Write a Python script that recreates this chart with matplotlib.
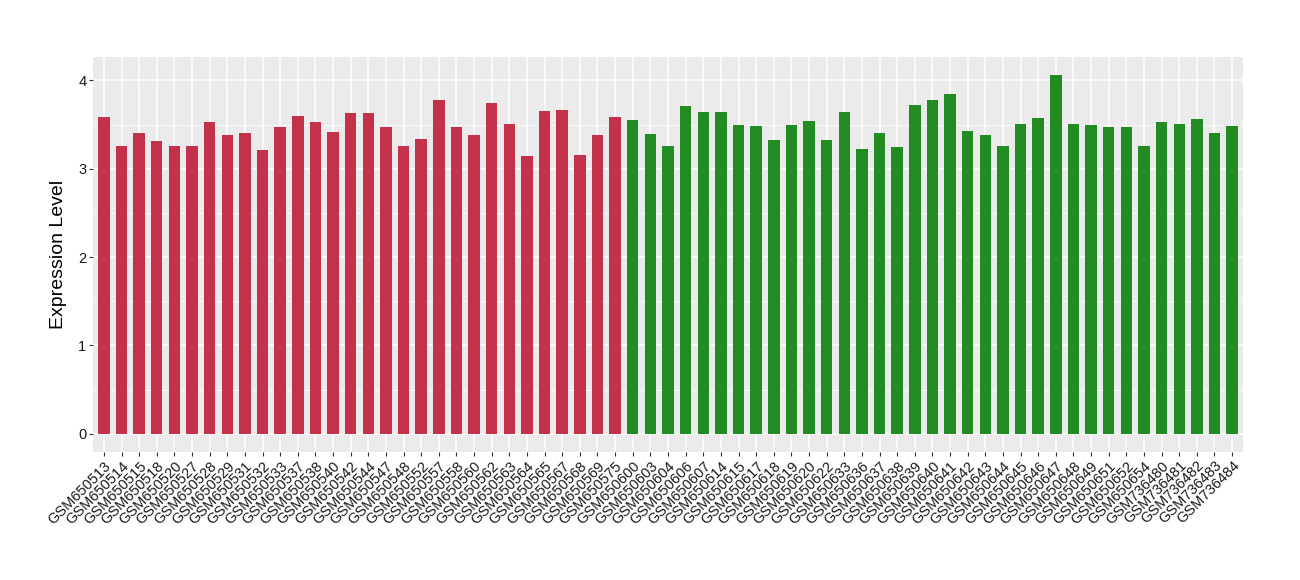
import matplotlib
matplotlib.use("Agg")
import matplotlib.pyplot as plt
from matplotlib.ticker import MultipleLocator

plt.rcParams['font.family'] = ['Liberation Sans', 'DejaVu Sans']

red_samples = ["GSM650513", "GSM650514", "GSM650515", "GSM650518", "GSM650520", "GSM650527",
               "GSM650528", "GSM650529", "GSM650531", "GSM650532", "GSM650533", "GSM650537",
               "GSM650538", "GSM650540", "GSM650542", "GSM650544", "GSM650547", "GSM650548",
               "GSM650552", "GSM650557", "GSM650558", "GSM650560", "GSM650562", "GSM650563",
               "GSM650564", "GSM650565", "GSM650567", "GSM650568", "GSM650569", "GSM650575"]
red_values = [3.58, 3.26, 3.41, 3.31, 3.26, 3.26, 3.53, 3.38, 3.40, 3.21, 3.47, 3.60,
              3.53, 3.42, 3.63, 3.63, 3.47, 3.26, 3.34, 3.78, 3.47, 3.38, 3.74, 3.51,
              3.14, 3.65, 3.67, 3.15, 3.38, 3.59]

green_samples = ["GSM650600", "GSM650603", "GSM650604", "GSM650606", "GSM650607", "GSM650614",
                 "GSM650615", "GSM650617", "GSM650618", "GSM650619", "GSM650620", "GSM650622",
                 "GSM650633", "GSM650636", "GSM650637", "GSM650638", "GSM650639", "GSM650640",
                 "GSM650641", "GSM650642", "GSM650643", "GSM650644", "GSM650645", "GSM650646",
                 "GSM650647", "GSM650648", "GSM650649", "GSM650651", "GSM650652", "GSM650654",
                 "GSM736480", "GSM736481", "GSM736482", "GSM736483", "GSM736484"]
green_values = [3.55, 3.39, 3.26, 3.71, 3.64, 3.64, 3.49, 3.48, 3.32, 3.49, 3.54, 3.32,
                3.64, 3.22, 3.41, 3.25, 3.72, 3.78, 3.85, 3.43, 3.38, 3.26, 3.51, 3.57,
                4.065, 3.51, 3.50, 3.47, 3.47, 3.26, 3.53, 3.51, 3.56, 3.41, 3.48]

red_color = "#C3314A"
green_color = "#228B22"

samples = red_samples + green_samples
values = red_values + green_values
colors = [red_color] * len(red_samples) + [green_color] * len(green_samples)

fig = plt.figure(figsize=(13, 5.8), dpi=100)
ax = fig.add_axes([93.3 / 1300, (580 - 451.7) / 580, (1242.7 - 93.3) / 1300, (451.7 - 56.7) / 580])

x = list(range(1, len(samples) + 1))
ax.set_facecolor("#EBEBEB")
ax.bar(x, values, width=0.65, color=colors, zorder=3)

ax.set_xlim(0.4, len(samples) + 0.6)
vmax = max(values)
ax.set_ylim(-0.05 * vmax, vmax * 1.05)
ax.yaxis.set_major_locator(MultipleLocator(1))
ax.yaxis.set_minor_locator(MultipleLocator(0.5))
ax.grid(which='major', axis='both', color='white', linewidth=1.1, zorder=0)
ax.grid(which='minor', axis='y', color='white', linewidth=0.55, zorder=0)
ax.set_axisbelow(True)

ax.set_xticks(x)
ax.set_xticklabels(samples, rotation=45, ha='right', va='top', rotation_mode='anchor',
                   fontsize=10.5, color='#1a1a1a')
ax.tick_params(axis='y', labelsize=10.5, labelcolor='#1a1a1a')
ax.tick_params(which='major', length=3, width=0.8, color='#333333', pad=2)
ax.tick_params(which='minor', length=0)
for s in ax.spines.values():
    s.set_visible(False)

ax.set_ylabel("Expression Level", fontsize=14, labelpad=8)

fig.savefig("out.png", dpi=100)
